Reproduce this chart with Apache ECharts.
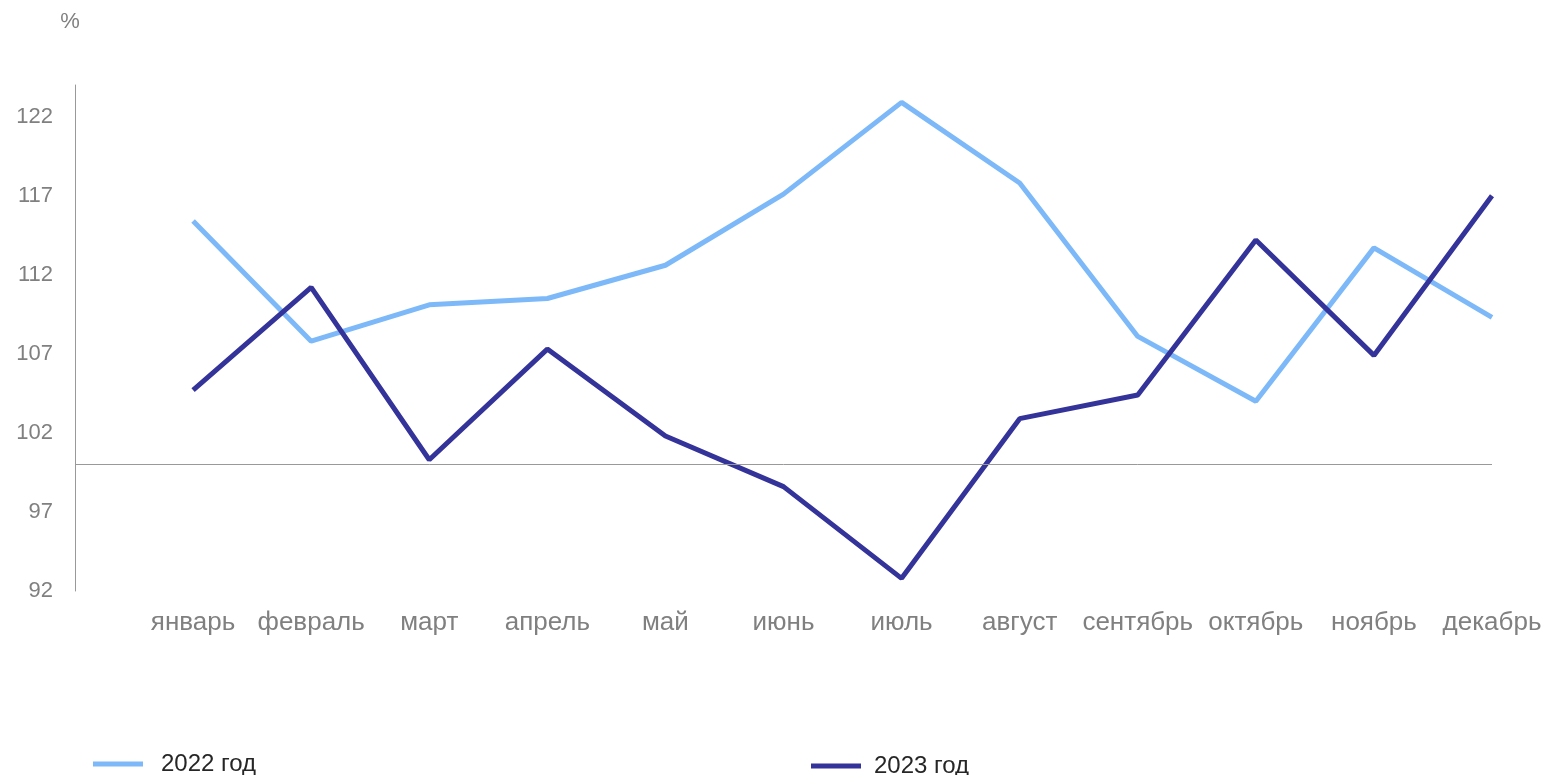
<!DOCTYPE html>
<html>
<head>
<meta charset="utf-8">
<script src="https://cdn.jsdelivr.net/npm/echarts@6/dist/echarts.min.js"></script>
<style>
html,body{margin:0;padding:0;background:#fff;}
#chart{width:1547px;height:775px;}
</style>
</head>
<body>
<div id="chart"></div>
<script>
const months = ['январь','февраль','март','апрель','май','июнь','июль','август','сентябрь','октябрь','ноябрь','декабрь'];
const values2022 = [115.4, 107.8, 110.1, 110.5, 112.6, 117.1, 122.9, 117.8, 108.1, 104.0, 113.7, 109.3];
const values2023 = [104.7, 111.2, 100.3, 107.3, 101.8, 98.6, 92.8, 102.9, 104.4, 114.2, 106.9, 117.0];
const seriesNames = ['2022 год', '2023 год'];
const baseLine = 100;

const chart = echarts.init(document.getElementById('chart'));
const font = '"Liberation Sans", Arial, sans-serif';
chart.setOption({
  animation: false,
  grid: {left: 75, right: 55, top: 85, bottom: 184, containLabel: false},
  legend: [
    {data: [seriesNames[0]], left: 88, top: 747, icon: 'rect', itemWidth: 50, itemHeight: 5,
     textStyle: {fontFamily: font, fontSize: 24, color: '#262626', padding: [0,0,0,13]}},
    {data: [seriesNames[1]], left: 806, top: 749, icon: 'rect', itemWidth: 50, itemHeight: 5,
     textStyle: {fontFamily: font, fontSize: 24, color: '#262626', padding: [0,0,0,8]}}
  ],
  xAxis: {
    type: 'category',
    boundaryGap: false,
    data: [''].concat(months),
    axisLine: {show: false},
    axisTick: {show: false},
    axisLabel: {color: '#808080', fontFamily: font, fontSize: 26, margin: 19, interval: 0}
  },
  yAxis: {
    type: 'value',
    min: 92, max: 124, interval: 5,
    name: '%',
    nameLocation: 'end',
    nameGap: 52,
    nameTextStyle: {color: '#808080', fontFamily: font, fontSize: 22, padding: [0, 10, 0, 0]},
    axisLine: {show: true, lineStyle: {color: '#999999', width: 1}},
    axisTick: {show: false},
    splitLine: {show: false},
    axisLabel: {color: '#808080', fontFamily: font, fontSize: 22, margin: 22, showMaxLabel: false}
  },
  series: [
    {
      name: seriesNames[0], type: 'line',
      data: [null].concat(values2022),
      symbol: 'none', lineStyle: {color: '#7db9f8', width: 5}, itemStyle: {color: '#7db9f8'},
      markLine: {silent: true, symbol: 'none', label: {show: false},
        lineStyle: {color: '#999999', width: 1, type: 'solid'},
        data: [{yAxis: baseLine}]}
    },
    {
      name: seriesNames[1], type: 'line',
      data: [null].concat(values2023),
      symbol: 'none', lineStyle: {color: '#343399', width: 5}, itemStyle: {color: '#343399'}
    }
  ]
});
</script>
</body>
</html>
